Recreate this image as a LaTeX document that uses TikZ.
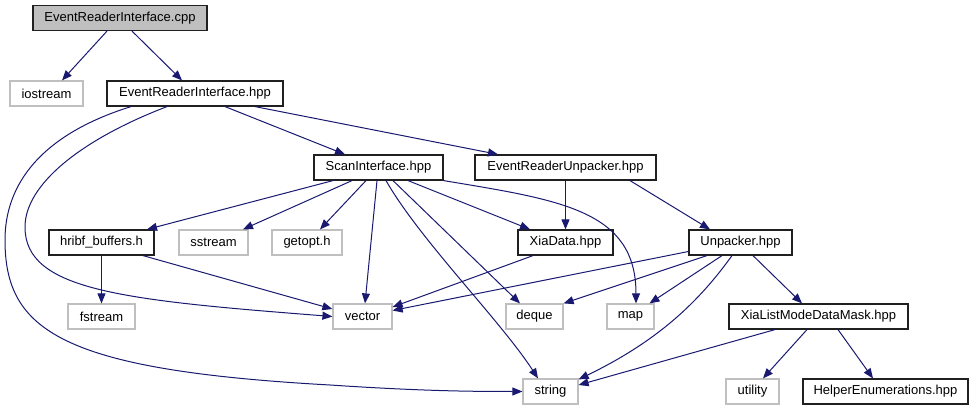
\documentclass[tikz,border=0pt]{standalone}
\usepackage{fontspec}
\setmainfont{Liberation Sans}
\usetikzlibrary{arrows.meta}
\definecolor{edgeblue}{HTML}{191970}
\definecolor{sysgray}{HTML}{BFBFBF}
\definecolor{boxblack}{HTML}{202020}
\tikzset{
  box/.style={draw=boxblack, line width=1.2pt, minimum height=25pt, inner sep=0pt,
    font=\fontsize{13}{15}\selectfont},
  sysbox/.style={box, draw=sysgray},
  srcbox/.style={box, fill=sysgray},
  edge/.style={draw=edgeblue, line width=1pt, -{Triangle[length=10pt,width=8pt]}}
}
\begin{document}
\begin{tikzpicture}[x=1pt,y=-1pt]
\useasboundingbox (0,0) rectangle (974,411);
% nodes
\node[srcbox, minimum width=174pt] (cpp) at (120,18) {EventReaderInterface.cpp};
\node[sysbox, minimum width=73pt] (iostream) at (46.5,93.5) {iostream};
\node[box, minimum width=176pt] (erih) at (195,93.5) {EventReaderInterface.hpp};
\node[box, minimum width=129pt] (scan) at (378.5,167.5) {ScanInterface.hpp};
\node[box, minimum width=181pt] (eru) at (565.5,167.5) {EventReaderUnpacker.hpp};
\node[box, minimum width=105pt] (hribf) at (101.5,242.5) {hribf\_buffers.h};
\node[sysbox, minimum width=69pt] (sstream) at (213.5,242.5) {sstream};
\node[sysbox, minimum width=70pt] (getopt) at (307,242.5) {getopt.h};
\node[box, minimum width=95pt] (xia) at (565.5,242.5) {XiaData.hpp};
\node[box, minimum width=103pt] (unp) at (740.5,242.5) {Unpacker.hpp};
\node[sysbox, minimum width=67pt] (fstream) at (101.5,316.5) {fstream};
\node[sysbox, minimum width=59pt] (vector) at (362.5,316.5) {vector};
\node[sysbox, minimum width=57pt] (deque) at (534.5,316.5) {deque};
\node[sysbox, minimum width=47pt] (map) at (630.5,316.5) {map};
\node[box, minimum width=179pt] (xlm) at (818.5,316.5) {XiaListModeDataMask.hpp};
\node[sysbox, minimum width=55pt] (string) at (550.5,391.5) {string};
\node[sysbox, minimum width=53pt] (utility) at (752.5,391.5) {utility};
\node[box, minimum width=165pt] (helper) at (885.5,391.5) {HelperEnumerations.hpp};
% edges
\draw[edge] ([xshift=-13pt]cpp.south) -- ([xshift=15.5pt]iostream.north);
\draw[edge] ([xshift=12pt]cpp.south) -- ([xshift=-13pt]erih.north);
\draw[edge] ([xshift=30pt]erih.south) -- ([xshift=-33.5pt]scan.north);
\draw[edge] ([xshift=60pt]erih.south) -- ([xshift=-67.5pt]eru.north);
\draw[edge] ([xshift=-64pt]erih.south) .. controls (40,135) and (5,185) .. (5,240)
   .. controls (5,330) and (60,370) .. (330,385)
   .. controls (420,391) and (470,391.5) .. (string.west);
\draw[edge] ([xshift=-28pt]erih.south) .. controls (80,140) and (25,185) .. (25,227)
   .. controls (25,290) and (120,300) .. (vector.west);
\draw[edge] ([xshift=-45.5pt]scan.south) -- ([xshift=45.5pt]hribf.north);
\draw[edge] ([xshift=-26.5pt]scan.south) -- ([xshift=29.5pt]sstream.north);
\draw[edge] ([xshift=-12.5pt]scan.south) -- ([xshift=13pt]getopt.north);
\draw[edge] ([xshift=-1.5pt]scan.south) -- ([xshift=2.5pt]vector.north);
\draw[edge] ([xshift=7.5pt]scan.south) .. controls (420,240) and (500,320) .. ([xshift=-12.5pt]string.north);
\draw[edge] ([xshift=14.5pt]scan.south) -- ([xshift=-14.5pt]deque.north);
\draw[edge] ([xshift=29.5pt]scan.south) -- ([xshift=-35.5pt]xia.north);
\draw[edge] (scan.south east) .. controls (560,200) and (636,210) .. ([xshift=5.5pt]map.north);
\draw[edge] (eru.south) -- (xia.north);
\draw[edge] ([xshift=64.5pt]eru.south) -- ([xshift=-30.5pt]unp.north);
\draw[edge] (hribf.south) -- (fstream.north);
\draw[edge] ([xshift=41.5pt]hribf.south) -- ([yshift=7.5pt]vector.west);
\draw[edge] ([xshift=-32.5pt]xia.south) -- ([yshift=9.5pt]vector.east);
\draw[edge] ([yshift=-9pt]unp.west) -- ([yshift=6pt]vector.east);
\draw[edge] ([xshift=-33.5pt]unp.south) -- (deque.north east);
\draw[edge] ([xshift=-18.5pt]unp.south) -- ([xshift=19pt]map.north);
\draw[edge] ([xshift=-8.5pt]unp.south) .. controls (700,300) and (660,340) .. ([yshift=-1pt]string.north east);
\draw[edge] ([xshift=12.5pt]unp.south) -- ([xshift=-16.5pt]xlm.north);
\draw[edge] ([xshift=-43.5pt]xlm.south) -- ([yshift=6.5pt]string.east);
\draw[edge] ([xshift=-11.5pt]xlm.south) -- ([xshift=10.5pt]utility.north);
\draw[edge] ([xshift=19.5pt]xlm.south) -- ([xshift=-12.5pt]helper.north);
\end{tikzpicture}
\end{document}
